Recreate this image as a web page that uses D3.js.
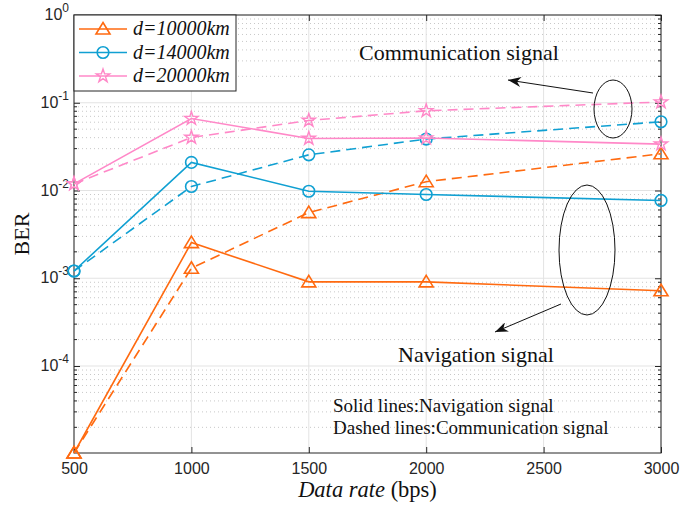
<!DOCTYPE html>
<html lang="en">
<head>
  <meta charset="UTF-8">
  <title>BER vs data rate</title>
  <script src="https://d3js.org/d3.v7.min.js"></script>
  <style>
    body { margin: 0; background: #fff; }
  </style>
</head>
<body>
  <div id="chart"></div>
  <script>
    // data rates (bps)
    var rates = [500, 1000, 1500, 2000, 3000];
    var xTicks = [500, 1000, 1500, 2000, 2500, 3000];
    var yDecades = [-4, -3, -2, -1, 0];

    var navD10000 = [1.02e-5, 2.55e-3, 9.1e-4, 9.1e-4, 7.2e-4];
    var comD10000 = [1.02e-5, 1.30e-3, 5.6e-3, 1.26e-2, 2.62e-2];
    var navD14000 = [1.21e-3, 2.09e-2, 9.8e-3, 9.0e-3, 7.7e-3];
    var comD14000 = [1.21e-3, 1.11e-2, 2.55e-2, 3.86e-2, 6.07e-2];
    var navD20000 = [1.19e-2, 6.6e-2, 3.92e-2, 3.96e-2, 3.38e-2];
    var comD20000 = [1.19e-2, 4.02e-2, 6.28e-2, 8.1e-2, 0.102];

    var series = [
      { name: "d=10000km", color: "#ff6a10", marker: "triangle", nav: navD10000, com: comD10000 },
      { name: "d=14000km", color: "#10a0d2", marker: "circle", nav: navD14000, com: comD14000 },
      { name: "d=20000km", color: "#ff88c8", marker: "star", nav: navD20000, com: comD20000 }
    ];

    var width = 691, height = 506;
    var m = { left: 74, right: 30, top: 15, bottom: 53 };
    var sans = "'Liberation Sans', Arial, sans-serif";
    var serif = "'Liberation Serif', 'Times New Roman', serif";

    var svg = d3.select("#chart").append("svg")
      .attr("width", width).attr("height", height);

    var x = d3.scaleLinear().domain([500, 3000]).range([m.left, width - m.right]);
    var y = d3.scaleLog().domain([1.02e-5, 1]).range([height - m.bottom, m.top]);

    var x0 = x.range()[0], x1 = x.range()[1];
    var y0 = y.range()[0], y1 = y.range()[1];

    // minor y values
    var minors = [];
    for (var e = -5; e < 0; e++) {
      for (var k = 2; k <= 9; k++) {
        var v = k * Math.pow(10, e);
        if (v > y.domain()[0]) minors.push(v);
      }
    }

    var grid = svg.append("g");
    grid.selectAll(".minor").data(minors).enter().append("line")
      .attr("x1", x0).attr("x2", x1)
      .attr("y1", function (d) { return y(d); }).attr("y2", function (d) { return y(d); })
      .attr("stroke", "#c8c8c8").attr("stroke-width", 1).attr("stroke-dasharray", "1,3");
    grid.selectAll(".majy").data(yDecades).enter().append("line")
      .attr("x1", x0).attr("x2", x1)
      .attr("y1", function (d) { return y(Math.pow(10, d)); }).attr("y2", function (d) { return y(Math.pow(10, d)); })
      .attr("stroke", "#e3e3e3").attr("stroke-width", 1);
    grid.selectAll(".majx").data(xTicks).enter().append("line")
      .attr("y1", y0).attr("y2", y1)
      .attr("x1", function (d) { return x(d); }).attr("x2", function (d) { return x(d); })
      .attr("stroke", "#e3e3e3").attr("stroke-width", 1);

    // axes with inward ticks on all four sides
    var axisCol = "#262626";
    function styleAxis(g) {
      g.select(".domain").remove();
      g.selectAll("line").attr("stroke", axisCol);
    }
    svg.append("g").attr("transform", "translate(0," + y0 + ")")
      .call(d3.axisBottom(x).tickValues(xTicks).tickSize(-6).tickPadding(10).tickFormat(d3.format("d")))
      .call(styleAxis)
      .selectAll("text").attr("font-family", sans).attr("font-size", 16).attr("fill", axisCol);
    svg.append("g").attr("transform", "translate(0," + y1 + ")")
      .call(d3.axisTop(x).tickValues(xTicks).tickSize(-6).tickFormat(""))
      .call(styleAxis);

    var leftAx = svg.append("g").attr("transform", "translate(" + x0 + ",0)");
    leftAx.call(d3.axisLeft(y).tickValues(yDecades.map(function (d) { return Math.pow(10, d); })).tickSize(-6).tickFormat(""))
      .call(styleAxis);
    leftAx.selectAll(".mt").data(minors).enter().append("line")
      .attr("x1", 0).attr("x2", 3)
      .attr("y1", function (d) { return y(d); }).attr("y2", function (d) { return y(d); })
      .attr("stroke", axisCol);
    var rightAx = svg.append("g").attr("transform", "translate(" + x1 + ",0)");
    rightAx.call(d3.axisRight(y).tickValues(yDecades.map(function (d) { return Math.pow(10, d); })).tickSize(-6).tickFormat(""))
      .call(styleAxis);
    rightAx.selectAll(".mt").data(minors).enter().append("line")
      .attr("x1", 0).attr("x2", -3)
      .attr("y1", function (d) { return y(d); }).attr("y2", function (d) { return y(d); })
      .attr("stroke", axisCol);

    // y tick labels 10^n
    var yl = svg.append("g").selectAll("text").data(yDecades).enter().append("text")
      .attr("x", x0 - 5)
      .attr("y", function (d) { return y(Math.pow(10, d)) + 5; })
      .attr("text-anchor", "end")
      .attr("font-family", sans)
      .attr("font-size", 16).attr("fill", axisCol);
    yl.append("tspan").text("10");
    yl.append("tspan").attr("font-size", 12).attr("dy", -8).text(function (d) { return d === 0 ? "0" : "-" + (-d); });

    // frame
    svg.append("rect").attr("x", x0).attr("y", y1).attr("width", x1 - x0).attr("height", y0 - y1)
      .attr("fill", "none").attr("stroke", axisCol).attr("stroke-width", 1);

    // markers
    function drawMarker(g, type, color) {
      if (type === "triangle") {
        g.append("path").attr("d", "M0,-6.5L7,5L-7,5Z")
          .attr("fill", "none").attr("stroke", color).attr("stroke-width", 1.6);
      } else if (type === "circle") {
        g.append("circle").attr("r", 5.8)
          .attr("fill", "none").attr("stroke", color).attr("stroke-width", 1.6);
      } else {
        g.append("path").attr("d", d3.symbol().type(d3.symbolStar).size(55)())
          .attr("fill", "none").attr("stroke", color).attr("stroke-width", 1.4);
      }
    }

    var line = d3.line()
      .x(function (d, i) { return x(rates[i]); })
      .y(function (d) { return y(d); });

    var plot = svg.append("g");
    series.forEach(function (s) {
      plot.append("path").attr("d", line(s.com)).attr("fill", "none")
        .attr("stroke", s.color).attr("stroke-width", 1.6).attr("stroke-dasharray", "10,6");
      plot.append("path").attr("d", line(s.nav)).attr("fill", "none")
        .attr("stroke", s.color).attr("stroke-width", 1.6);
      s.com.concat(s.nav).forEach(function (v, i) {
        var g = plot.append("g").attr("transform", "translate(" + x(rates[i % rates.length]) + "," + y(v) + ")");
        drawMarker(g, s.marker, s.color);
      });
    });

    // legend
    var lg = svg.append("g");
    lg.append("rect").attr("x", x0).attr("y", y1).attr("width", 162).attr("height", 76)
      .attr("fill", "#fff").attr("stroke", axisCol).attr("stroke-width", 1);
    series.forEach(function (s, i) {
      var ly = y1 + 14 + i * 23.5;
      lg.append("line").attr("x1", x0 + 5).attr("x2", x0 + 53).attr("y1", ly).attr("y2", ly)
        .attr("stroke", s.color).attr("stroke-width", 1.6);
      drawMarker(lg.append("g").attr("transform", "translate(" + (x0 + 29) + "," + ly + ")"), s.marker, s.color);
      lg.append("text").attr("x", x0 + 59).attr("y", ly + 6)
        .attr("font-family", serif).attr("font-style", "italic")
        .attr("font-size", 20).attr("fill", "#111").text(s.name);
    });

    // axis titles
    svg.append("text").attr("transform", "translate(29," + ((y0 + y1) / 2) + ") rotate(-90)")
      .attr("text-anchor", "middle")
      .attr("font-family", serif).attr("font-size", 22)
      .attr("fill", "#111").text("BER");
    var xt = svg.append("text").attr("x", (x0 + x1) / 2).attr("y", 497)
      .attr("text-anchor", "middle")
      .attr("font-family", serif).attr("font-size", 22.5).attr("fill", "#111");
    xt.append("tspan").attr("font-style", "italic").text("Data rate");
    xt.append("tspan").text(" (bps)");

    // annotations
    svg.append("defs").append("marker").attr("id", "ah")
      .attr("viewBox", "0 0 10 10").attr("refX", 10).attr("refY", 5)
      .attr("markerWidth", 13).attr("markerHeight", 10).attr("markerUnits", "userSpaceOnUse")
      .attr("orient", "auto")
      .attr("preserveAspectRatio", "none")
      .append("path").attr("d", "M10,5L0,0L3,5L0,10Z").attr("fill", "#111");

    svg.append("ellipse").attr("cx", 613).attr("cy", 109).attr("rx", 19).attr("ry", 29)
      .attr("fill", "none").attr("stroke", "#111").attr("stroke-width", 1);
    svg.append("line").attr("x1", 593).attr("y1", 93).attr("x2", 508).attr("y2", 80)
      .attr("stroke", "#111").attr("stroke-width", 1).attr("marker-end", "url(#ah)");
    svg.append("text").attr("x", 359).attr("y", 60).attr("font-family", serif).attr("font-size", 22)
      .attr("fill", "#111").text("Communication signal");

    svg.append("ellipse").attr("cx", 587).attr("cy", 250).attr("rx", 28).attr("ry", 65)
      .attr("fill", "none").attr("stroke", "#111").attr("stroke-width", 1);
    svg.append("line").attr("x1", 561).attr("y1", 304).attr("x2", 495).attr("y2", 332)
      .attr("stroke", "#111").attr("stroke-width", 1).attr("marker-end", "url(#ah)");
    svg.append("text").attr("x", 398).attr("y", 362).attr("font-family", serif).attr("font-size", 22)
      .attr("fill", "#111").text("Navigation signal");

    svg.append("text").attr("x", 333).attr("y", 412).attr("font-family", serif).attr("font-size", 19)
      .attr("fill", "#111").text("Solid lines:Navigation signal");
    svg.append("text").attr("x", 333).attr("y", 434).attr("font-family", serif).attr("font-size", 19)
      .attr("fill", "#111").text("Dashed lines:Communication signal");
  </script>
</body>
</html>
